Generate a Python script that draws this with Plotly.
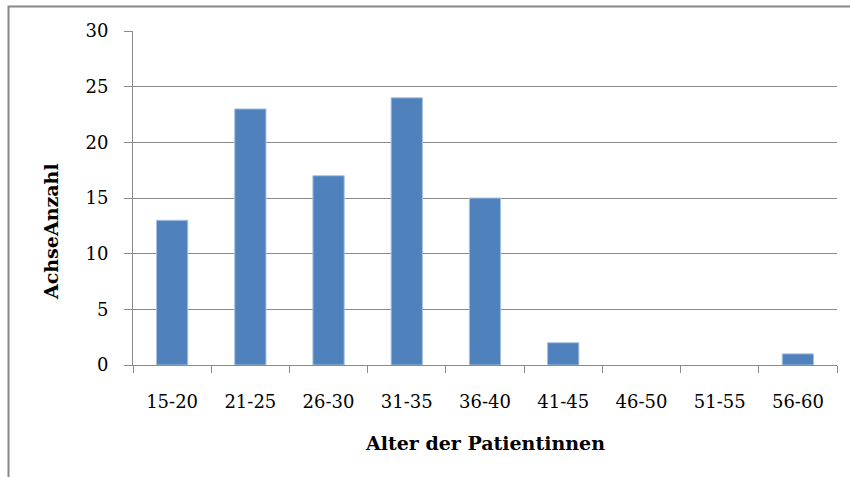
import plotly.graph_objects as go

# Age groups of the patients and number of patients per group
age_groups = ["15-20", "21-25", "26-30", "31-35", "36-40", "41-45", "46-50", "51-55", "56-60"]
counts = [13, 23, 17, 24, 15, 2, 0, 0, 1]
y_ticks = [0, 5, 10, 15, 20, 25, 30]

FIG_W, FIG_H = 850, 477
M_L, M_R, M_T, M_B = 133, 13, 31, 112
PLOT_W = FIG_W - M_L - M_R
PLOT_H = FIG_H - M_T - M_B


def px_x(px):
    return (px - M_L) / PLOT_W


def px_y(py):
    return (FIG_H - M_B - py) / PLOT_H


GRAY = "#8a8a8a"
FONT = "DejaVu Serif"

# empty groups get no outline so nothing shows on the baseline
outline_widths = [1 if c > 0 else 0 for c in counts]

fig = go.Figure(
    go.Bar(
        x=age_groups,
        y=counts,
        marker=dict(color="#4f81bd", line=dict(color="#a9c2e0", width=outline_widths)),
    )
)

fig.update_layout(
    width=FIG_W,
    height=FIG_H,
    margin=dict(l=M_L, r=M_R, t=M_T, b=M_B),
    paper_bgcolor="white",
    plot_bgcolor="white",
    bargap=0.6,
    showlegend=False,
    font=dict(family=FONT, size=18, color="#000000"),
)

fig.update_xaxes(
    type="category",
    showgrid=False,
    showline=True,
    linecolor=GRAY,
    linewidth=1,
    ticks="outside",
    tickson="boundaries",
    ticklen=7,
    tickcolor=GRAY,
    ticklabelstandoff=20,
    tickfont=dict(family=FONT, size=18, color="#000000"),
)

fig.update_yaxes(
    range=[0, 30],
    tickvals=y_ticks,
    showgrid=True,
    gridcolor=GRAY,
    gridwidth=1,
    zeroline=False,
    showline=True,
    linecolor=GRAY,
    linewidth=1,
    ticks="outside",
    ticklen=8,
    tickcolor=GRAY,
    ticklabelstandoff=12,
    tickfont=dict(family=FONT, size=18, color="#000000"),
)

# Axis titles
fig.add_annotation(
    text="<b>Alter der Patientinnen</b>",
    xref="paper", yref="paper",
    x=px_x(485), y=px_y(443),
    xanchor="center", yanchor="middle",
    showarrow=False,
    font=dict(family=FONT, size=19, color="#000000"),
)
fig.add_annotation(
    text="<b>AchseAnzahl</b>",
    xref="paper", yref="paper",
    x=px_x(51), y=px_y(232),
    xanchor="center", yanchor="middle",
    textangle=-90,
    showarrow=False,
    font=dict(family=FONT, size=19, color="#000000"),
)

# Chart area frame
fig.add_shape(
    type="rect",
    xref="paper", yref="paper",
    x0=px_x(8.5), x1=px_x(870),
    y0=px_y(500), y1=px_y(6.5),
    line=dict(color="#878787", width=2),
    fillcolor="rgba(0,0,0,0)",
    layer="below",
)

fig.write_html("out.html")
